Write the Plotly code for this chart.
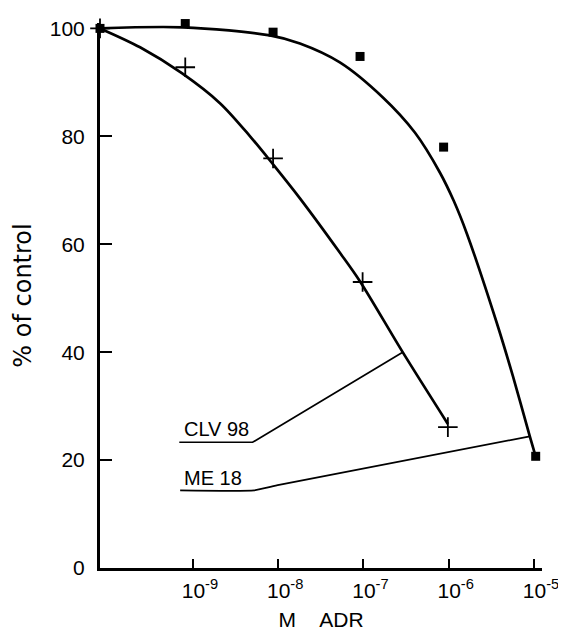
import plotly.graph_objects as go

# ---- data (log10 of molar ADR concentration; control plotted at the axis origin) ----
me18_logx = [-10.09, -9.09, -8.06, -7.04, -6.06, -4.98]
me18_y = [100.0, 100.9, 99.3, 94.8, 78.0, 20.7]

clv98_logx = [-10.09, -9.09, -8.06, -7.01, -6.01]
clv98_y = [100.0, 92.8, 75.9, 53.0, 26.1]

# fitted curves
me18_fit_logx = [-10.09, -9.117, -8.097, -7.745, -7.277, -6.772, -6.397, -6.104, -5.94, -5.788, -5.436, -5.248, -5.049, -4.979]
me18_fit_y = [100.0, 100.2, 98.7, 97.2, 93.7, 87.2, 80.7, 73.3, 68.0, 62.0, 45.4, 35.6, 24.4, 20.6]

clv98_fit_logx = [-10.09, -9.62, -9.13, -8.68, -8.33, -8.06, -7.745, -7.28, -7.04, -6.54, -6.01]
clv98_fit_y = [100.0, 96.5, 91.7, 86.1, 80.0, 74.8, 68.5, 58.5, 53.1, 40.0, 26.7]

# label leader lines
clv98_leader_logx = [-9.16, -8.30, -6.54]
clv98_leader_y = [23.3, 23.3, 40.0]
me18_leader_logx = [-9.15, -8.28, -7.99, -5.049]
me18_leader_y = [14.4, 14.4, 15.4, 24.4]

tick_exps = [-9, -8, -7, -6, -5]
tick_vals = [10.0 ** e for e in tick_exps]
tick_text = ["10<sup>-%d</sup>" % (-e) for e in tick_exps]
y_ticks = [0, 20, 40, 60, 80, 100]


def lin(v):
    return [10.0 ** e for e in v]


FONT = "Liberation Sans, Arial, sans-serif"

fig = go.Figure()
line_style = dict(color="black", width=2.7, shape="spline", smoothing=0.9)
fig.add_trace(go.Scatter(x=lin(me18_fit_logx), y=me18_fit_y, mode="lines", line=line_style, hoverinfo="skip"))
fig.add_trace(go.Scatter(x=lin(clv98_fit_logx), y=clv98_fit_y, mode="lines", line=line_style, hoverinfo="skip"))
fig.add_trace(go.Scatter(x=lin(clv98_leader_logx), y=clv98_leader_y, mode="lines",
                         line=dict(color="black", width=1.7), hoverinfo="skip"))
fig.add_trace(go.Scatter(x=lin(me18_leader_logx), y=me18_leader_y, mode="lines",
                         line=dict(color="black", width=1.7, shape="spline", smoothing=0.5), hoverinfo="skip"))
fig.add_trace(go.Scatter(x=lin(me18_logx), y=me18_y, mode="markers", name="ME 18",
                         marker=dict(symbol="square", size=9, color="black"), cliponaxis=False))
fig.add_trace(go.Scatter(x=lin(clv98_logx), y=clv98_y, mode="markers", name="CLV 98",
                         marker=dict(symbol="cross-thin", size=14, line=dict(color="black", width=1.8)),
                         cliponaxis=False))

fig.add_annotation(x=-8.72, y=23.3, xref="x", yref="y", text="CLV 98", showarrow=False,
                   yanchor="bottom", yshift=0, font=dict(family=FONT, size=20, color="black"))
fig.add_annotation(x=-8.765, y=14.4, xref="x", yref="y", text="ME 18", showarrow=False,
                   yanchor="bottom", yshift=-1, font=dict(family=FONT, size=20, color="black"))

fig.update_layout(
    width=566, height=631,
    margin=dict(l=92, r=32, t=15, b=71),
    paper_bgcolor="white", plot_bgcolor="white",
    showlegend=False,
    font=dict(family=FONT, size=21, color="black"),
)
fig.update_xaxes(
    type="log", range=[-10.09, -4.906], automargin=False,
    tickvals=tick_vals, ticktext=tick_text,
    ticks="inside", ticklen=9, tickwidth=2, tickcolor="black",
    showline=True, linecolor="black", linewidth=3,
    showgrid=False, zeroline=False,
    tickfont=dict(family=FONT, size=21),
    ticklabelshift=7, ticklabelstandoff=2,
    title=dict(text="M\u00a0\u00a0\u00a0\u00a0ADR", font=dict(family=FONT, size=21), standoff=12),
)
fig.update_yaxes(
    range=[0, 101], automargin=False,
    tickvals=y_ticks,
    ticks="inside", ticklen=12, tickwidth=2, tickcolor="black",
    showline=True, linecolor="black", linewidth=3,
    showgrid=False, zeroline=False,
    tickfont=dict(family=FONT, size=21),
    ticklabelstandoff=8,
    title=dict(text="% of control", font=dict(family="DejaVu Sans, sans-serif", size=24), standoff=12),
)

fig.write_html("out.html")
